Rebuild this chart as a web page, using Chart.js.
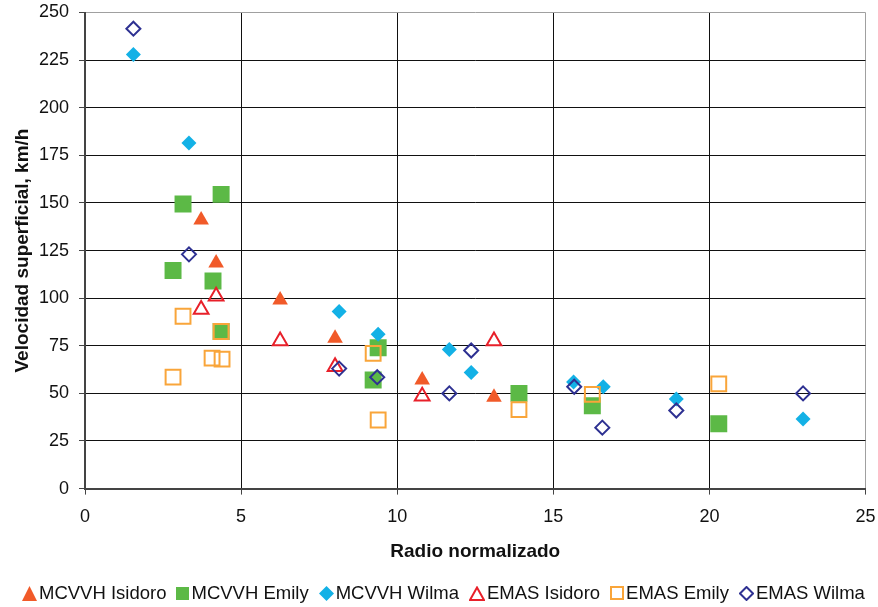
<!DOCTYPE html>
<html>
<head>
<meta charset="utf-8">
<script src="https://cdn.jsdelivr.net/npm/chart.js@4.4.1/dist/chart.umd.min.js"></script>
<style>
  html, body { margin: 0; padding: 0; background: #fff; }
  #wrap { position: relative; width: 878px; height: 607px; }
  #legend {
    position: absolute; left: 22px; top: 581px; height: 24px;
    display: flex; align-items: center;
    font-family: "Liberation Sans", Arial, sans-serif; font-size: 18.5px; color: #111;
    white-space: nowrap;
  }
  .item { display: flex; align-items: center; margin-right: 10px; }
  .item svg { margin-right: 2px; }
</style>
</head>
<body>
<div id="wrap">
  <canvas id="chart" width="878" height="607"></canvas>
  <div id="legend"></div>
</div>
<script>
// Series (x = radio normalizado, y = km/h)
const mcvvhIsidoroX = [3.72, 4.2, 6.25, 8.01, 10.8, 13.1];
const mcvvhIsidoroY = [141, 118.5, 99, 79, 57, 48];

const mcvvhEmilyX = [3.14, 4.36, 2.82, 4.1, 4.36, 9.39, 9.23, 13.9, 16.25, 20.3];
const mcvvhEmilyY = [149.5, 154.5, 114.5, 109, 82.5, 74, 57, 50, 43.5, 34];

const mcvvhWilmaX = [1.55, 3.33, 8.14, 9.39, 11.67, 12.37, 15.65, 16.6, 18.94, 23.0];
const mcvvhWilmaY = [228, 181.5, 93, 81, 73, 61, 56, 53.5, 47, 36.5];

const emasIsidoroX = [3.72, 4.2, 6.25, 8.01, 10.8, 13.1];
const emasIsidoroY = [94, 101, 77.5, 64, 48.5, 77.5];

const emasEmilyX = [3.14, 4.36, 4.07, 4.39, 2.82, 9.23, 9.39, 13.9, 16.25, 20.3];
const emasEmilyY = [90.5, 82.5, 68.5, 68, 58.5, 71, 36, 41.5, 49.5, 55];

const emasWilmaX = [1.55, 3.33, 8.14, 9.36, 11.67, 12.37, 15.67, 16.57, 18.94, 23.0];
const emasWilmaY = [241.5, 123, 63, 58.5, 50, 72.5, 53.5, 32, 41, 50];

const seriesNames = ['MCVVH Isidoro', 'MCVVH Emily', 'MCVVH Wilma', 'EMAS Isidoro', 'EMAS Emily', 'EMAS Wilma'];

const FONT = '"Liberation Sans", Arial, sans-serif';

function pts(xs, ys) {
    return xs.map((x, i) => ({ x, y: ys[i] }));
}

// marker look per series: [shape, colour, filled, radius]
const styles = [
    ['triangle', '#f15a29', true, 9],
    ['rect', '#5cb946', true, 12],
    ['rectRot', '#13b1e6', true, 7.5],
    ['triangle', '#e8202a', false, 8.5],
    ['rect', '#f9a53a', false, 10.5],
    ['rectRot', '#2e3192', false, 7],
];
const allData = [
    pts(mcvvhIsidoroX, mcvvhIsidoroY),
    pts(mcvvhEmilyX, mcvvhEmilyY),
    pts(mcvvhWilmaX, mcvvhWilmaY),
    pts(emasIsidoroX, emasIsidoroY),
    pts(emasEmilyX, emasEmilyY),
    pts(emasWilmaX, emasWilmaY),
];

const datasets = seriesNames.map((name, i) => {
    const [shape, col, filled, r] = styles[i];
    return {
        label: name,
        data: allData[i],
        pointStyle: shape,
        pointRadius: r,
        pointHoverRadius: r,
        pointBackgroundColor: filled ? col : 'rgba(0,0,0,0)',
        pointBorderColor: col,
        pointBorderWidth: filled ? 0 : 2,
        showLine: false,
        order: seriesNames.length - i, // later series drawn on top, like Excel
    };
});

new Chart(document.getElementById('chart'), {
    type: 'scatter',
    data: { datasets },
    options: {
        responsive: false,
        animation: false,
        layout: { padding: { top: 12, right: 12, bottom: 44, left: 0 } },
        plugins: { legend: { display: false }, tooltip: { enabled: false } },
        scales: {
            x: {
                type: 'linear', min: 0, max: 25,
                ticks: { stepSize: 5, color: '#111', padding: 12, font: { family: FONT, size: 18 } },
                grid: {
                    color: c => c.tick && c.tick.value === 25 ? '#a0a0a0' : '#111',
                    lineWidth: 1, tickLength: 6, tickColor: '#444',
                },
                border: { color: '#444', width: 2 },
                title: {
                    display: true, text: 'Radio normalizado', color: '#111',
                    font: { family: FONT, size: 19, weight: 'bold' }, padding: { top: 0, bottom: 0 },
                },
                afterFit: s => { s.paddingLeft = 0; s.paddingRight = 0; },
            },
            y: {
                type: 'linear', min: 0, max: 250,
                ticks: { stepSize: 25, color: '#111', padding: 10, font: { family: FONT, size: 18 } },
                grid: {
                    color: c => c.tick && c.tick.value === 250 ? '#a0a0a0' : '#111',
                    lineWidth: 1, tickLength: 6, tickColor: '#444',
                },
                border: { color: '#444', width: 2 },
                title: {
                    display: true, text: 'Velocidad superficial, km/h', color: '#111',
                    font: { family: FONT, size: 19, weight: 'bold' }, padding: { top: 11, bottom: 0 },
                },
                afterFit: s => { s.width = 85; s.paddingTop = 0; s.paddingBottom = 0; },
            },
        },
    },
});

// HTML legend with small svg markers
const legendSvg = [
    '<svg width="15" height="15"><polygon points="7.5,0 15,15 0,15" fill="#f15a29"/></svg>',
    '<svg width="13" height="13"><rect x="0" y="0" width="13" height="13" fill="#5cb946"/></svg>',
    '<svg width="15" height="15"><polygon points="7.5,0 15,7.5 7.5,15 0,7.5" fill="#13b1e6"/></svg>',
    '<svg width="16" height="15"><polygon points="8,1.5 15,14 1,14" fill="none" stroke="#e8202a" stroke-width="2"/></svg>',
    '<svg width="14" height="14"><rect x="1" y="1" width="12" height="12" fill="none" stroke="#f9a53a" stroke-width="2"/></svg>',
    '<svg width="15" height="15"><polygon points="7.5,1 14,7.5 7.5,14 1,7.5" fill="none" stroke="#2e3192" stroke-width="2"/></svg>',
];
const leg = document.getElementById('legend');
seriesNames.forEach((name, i) => {
    const d = document.createElement('div');
    d.className = 'item';
    d.innerHTML = legendSvg[i] + '<span>' + name + '</span>';
    leg.appendChild(d);
});
</script>
</body>
</html>
